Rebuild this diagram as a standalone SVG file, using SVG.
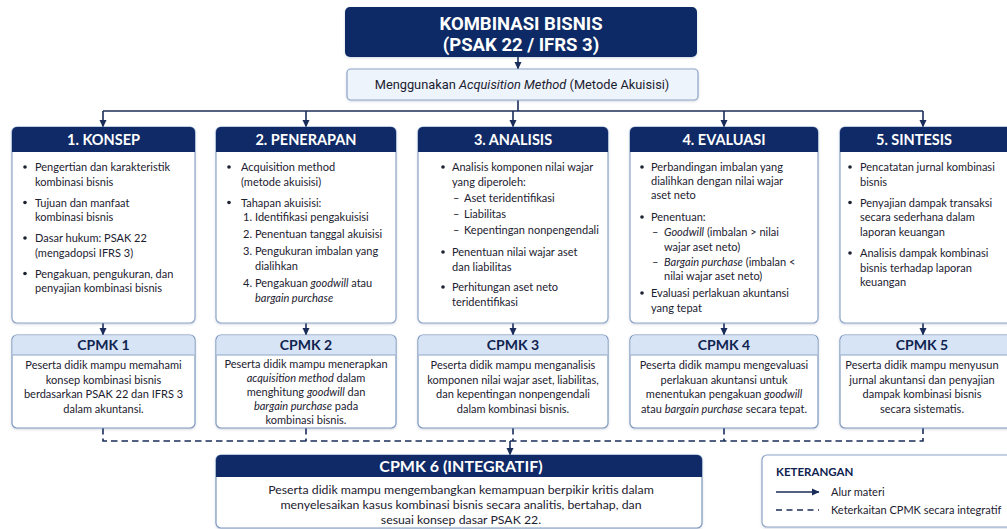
<svg xmlns="http://www.w3.org/2000/svg" width="1007" height="529" viewBox="0 0 1007 529">
<defs>
<marker id="ah" markerWidth="8" markerHeight="8" refX="7" refY="4" orient="auto" markerUnits="userSpaceOnUse">
<path d="M0,0.5 L7.5,4 L0,7.5 Z" fill="#1a2c5a"/>
</marker>
<filter id="sh" x="-5%" y="-5%" width="110%" height="115%">
<feDropShadow dx="0" dy="1" stdDeviation="1.2" flood-color="#4a5e85" flood-opacity="0.25"/>
</filter>
<style>
.navy{fill:#0f2a66}
.box{fill:#ffffff;stroke:#8ea5c8;stroke-width:1.2}
.cbox{fill:#ffffff;stroke:#7f98bf;stroke-width:1.2}
.chd{fill:#d7e4f5}
.ht{font-family:Lato,"Open Sans",sans-serif;font-weight:bold;font-size:14.5px;fill:#ffffff;text-anchor:middle}
.ct{font-family:Lato,"Open Sans",sans-serif;font-weight:bold;font-size:14px;fill:#0f2350;text-anchor:middle}
.t{font-family:Lato,"Open Sans",sans-serif;font-size:11px;fill:#1c2130}
.tc{font-family:Lato,"Open Sans",sans-serif;font-size:11px;fill:#1c2130;text-anchor:middle}
.i{font-style:italic}
.bul{fill:#1c2130}
.ln{stroke:#1a2c5a;stroke-width:1.6;fill:none}
.dash{stroke:#1a2c5a;stroke-width:1.6;fill:none;stroke-dasharray:6.5 4}
</style>
</defs>
<rect x="0" y="0" width="1007" height="529" fill="#ffffff"/>

<!-- connectors -->
<g id="connectors">
<line class="ln" x1="518" y1="57" x2="518" y2="69" marker-end="url(#ah)"/>
<line class="ln" x1="518" y1="100" x2="518" y2="111"/>
<line class="ln" x1="103" y1="111" x2="923" y2="111"/>
<line class="ln" x1="103" y1="111" x2="103" y2="127" marker-end="url(#ah)"/>
<line class="ln" x1="306" y1="111" x2="306" y2="127" marker-end="url(#ah)"/>
<line class="ln" x1="513" y1="111" x2="513" y2="127" marker-end="url(#ah)"/>
<line class="ln" x1="724" y1="111" x2="724" y2="127" marker-end="url(#ah)"/>
<line class="ln" x1="923" y1="111" x2="923" y2="127" marker-end="url(#ah)"/>
<line class="ln" x1="103" y1="323" x2="103" y2="335" marker-end="url(#ah)"/>
<line class="ln" x1="306" y1="323" x2="306" y2="335" marker-end="url(#ah)"/>
<line class="ln" x1="513" y1="323" x2="513" y2="335" marker-end="url(#ah)"/>
<line class="ln" x1="724" y1="323" x2="724" y2="335" marker-end="url(#ah)"/>
<line class="ln" x1="923" y1="323" x2="923" y2="335" marker-end="url(#ah)"/>
<path class="dash" d="M103,428 V441 H923 V428"/>
<line class="dash" x1="306" y1="428" x2="306" y2="441"/>
<line class="dash" x1="724" y1="428" x2="724" y2="441"/>
<line class="dash" x1="513" y1="428" x2="513" y2="441"/>
<line class="ln" x1="510" y1="441" x2="510" y2="455" marker-end="url(#ah)"/>
</g>

<!-- title -->
<g id="title">
<rect x="345" y="7" width="352" height="50" rx="5" class="navy" filter="url(#sh)"/>
<text x="521" y="29.5" class="ht" style="font-family:Roboto,sans-serif;font-size:18.5px">KOMBINASI BISNIS</text>
<text x="521" y="50.5" class="ht" style="font-family:Roboto,sans-serif;font-size:18.5px">(PSAK 22 / IFRS 3)</text>
</g>

<g id="method">
<rect x="347" y="69" width="351" height="31" rx="4" fill="#eef4fc" stroke="#8ea5c8" stroke-width="1.2" filter="url(#sh)"/>
<text x="522" y="89" style="font-family:Roboto,sans-serif;font-size:12.8px;fill:#1c2130;text-anchor:middle">Menggunakan <tspan class="i">Acquisition Method</tspan> (Metode Akuisisi)</text>
</g>

<!-- column 1 -->
<g id="konsep">
<rect x="12" y="127" width="183" height="196" rx="5" class="box" filter="url(#sh)"/>
<path d="M12,152 V132 a5,5 0 0 1 5,-5 H190 a5,5 0 0 1 5,5 V152 Z" class="navy"/>
<text x="103.5" y="145" class="ht">1. KONSEP</text>
<circle cx="25" cy="167" r="1.8" class="bul"/>
<text x="35" y="171" class="t">Pengertian dan karakteristik</text>
<text x="35" y="185.5" class="t">kombinasi bisnis</text>
<circle cx="25" cy="202.5" r="1.8" class="bul"/>
<text x="35" y="206.5" class="t">Tujuan dan manfaat</text>
<text x="35" y="221" class="t">kombinasi bisnis</text>
<circle cx="25" cy="238" r="1.8" class="bul"/>
<text x="35" y="242" class="t">Dasar hukum: PSAK 22</text>
<text x="35" y="256.5" class="t">(mengadopsi IFRS 3)</text>
<circle cx="25" cy="273.5" r="1.8" class="bul"/>
<text x="35" y="277.5" class="t">Pengakuan, pengukuran, dan</text>
<text x="35" y="292" class="t">penyajian kombinasi bisnis</text>
</g>

<!-- column 2 -->
<g id="penerapan">
<rect x="216" y="127" width="180" height="196" rx="5" class="box" filter="url(#sh)"/>
<path d="M216,152 V132 a5,5 0 0 1 5,-5 H391 a5,5 0 0 1 5,5 V152 Z" class="navy"/>
<text x="306" y="145" class="ht">2. PENERAPAN</text>
<circle cx="229" cy="167" r="1.8" class="bul"/>
<text x="241" y="171" class="t">Acquisition method</text>
<text x="241" y="185.5" class="t">(metode akuisisi)</text>
<circle cx="229" cy="202.5" r="1.8" class="bul"/>
<text x="241" y="206.5" class="t">Tahapan akuisisi:</text>
<text x="243" y="221" class="t">1.</text><text x="255" y="221" class="t">Identifikasi pengakuisisi</text>
<text x="243" y="238" class="t">2.</text><text x="255" y="238" class="t">Penentuan tanggal akuisisi</text>
<text x="243" y="255" class="t">3.</text><text x="255" y="255" class="t">Pengukuran imbalan yang</text>
<text x="255" y="270" class="t">dialihkan</text>
<text x="243" y="287" class="t">4.</text><text x="255" y="287" class="t">Pengakuan <tspan class="i">goodwill</tspan> atau</text>
<text x="255" y="302" class="t i">bargain purchase</text>
</g>

<!-- column 3 -->
<g id="analisis">
<rect x="418" y="127" width="190" height="196" rx="5" class="box" filter="url(#sh)"/>
<path d="M418,152 V132 a5,5 0 0 1 5,-5 H603 a5,5 0 0 1 5,5 V152 Z" class="navy"/>
<text x="513" y="145" class="ht">3. ANALISIS</text>
<circle cx="443" cy="167" r="1.8" class="bul"/>
<text x="452" y="171" class="t">Analisis komponen nilai wajar</text>
<text x="452" y="185.5" class="t">yang diperoleh:</text>
<text x="453" y="202" class="t">–</text><text x="464" y="202" class="t">Aset teridentifikasi</text>
<text x="453" y="218" class="t">–</text><text x="464" y="218" class="t">Liabilitas</text>
<text x="453" y="234" class="t">–</text><text x="464" y="234" class="t">Kepentingan nonpengendali</text>
<circle cx="443" cy="252" r="1.8" class="bul"/>
<text x="452" y="256" class="t">Penentuan nilai wajar aset</text>
<text x="452" y="270.5" class="t">dan liabilitas</text>
<circle cx="443" cy="287" r="1.8" class="bul"/>
<text x="452" y="291" class="t">Perhitungan aset neto</text>
<text x="452" y="305.5" class="t">teridentifikasi</text>
</g>

<!-- column 4 -->
<g id="evaluasi">
<rect x="630" y="127" width="188" height="196" rx="5" class="box" filter="url(#sh)"/>
<path d="M630,152 V132 a5,5 0 0 1 5,-5 H813 a5,5 0 0 1 5,5 V152 Z" class="navy"/>
<text x="724" y="145" class="ht">4. EVALUASI</text>
<circle cx="642" cy="167" r="1.8" class="bul"/>
<text x="651" y="171" class="t">Perbandingan imbalan yang</text>
<text x="651" y="185" class="t">dialihkan dengan nilai wajar</text>
<text x="651" y="199" class="t">aset neto</text>
<circle cx="642" cy="217" r="1.8" class="bul"/>
<text x="651" y="221" class="t">Penentuan:</text>
<text x="652" y="236" class="t">–</text><text x="664" y="236" class="t"><tspan class="i">Goodwill</tspan> (imbalan &gt; nilai</text>
<text x="664" y="250.5" class="t">wajar aset neto)</text>
<text x="652" y="266" class="t">–</text><text x="664" y="266" class="t"><tspan class="i">Bargain purchase</tspan> (imbalan &lt;</text>
<text x="664" y="280" class="t">nilai wajar aset neto)</text>
<circle cx="642" cy="293" r="1.8" class="bul"/>
<text x="651" y="297" class="t">Evaluasi perlakuan akuntansi</text>
<text x="651" y="311.5" class="t">yang tepat</text>
</g>

<!-- column 5 -->
<g id="sintesis">
<rect x="840" y="127" width="175" height="196" rx="5" class="box" filter="url(#sh)"/>
<path d="M840,152 V132 a5,5 0 0 1 5,-5 H1015 V152 Z" class="navy"/>
<text x="914" y="145" class="ht">5. SINTESIS</text>
<circle cx="850" cy="167" r="1.8" class="bul"/>
<text x="860" y="171" class="t">Pencatatan jurnal kombinasi</text>
<text x="860" y="185.5" class="t">bisnis</text>
<circle cx="850" cy="202.5" r="1.8" class="bul"/>
<text x="860" y="206.5" class="t">Penyajian dampak transaksi</text>
<text x="860" y="221" class="t">secara sederhana dalam</text>
<text x="860" y="235.5" class="t">laporan keuangan</text>
<circle cx="850" cy="253" r="1.8" class="bul"/>
<text x="860" y="257" class="t">Analisis dampak kombinasi</text>
<text x="860" y="271.5" class="t">bisnis terhadap laporan</text>
<text x="860" y="286" class="t">keuangan</text>
</g>

<!-- CPMK boxes -->
<g id="cpmk1">
<rect x="12" y="335" width="183" height="93" rx="5" class="cbox" filter="url(#sh)"/>
<path d="M12.6,355 V340 a4.4,4.4 0 0 1 4.4,-4.4 H190 a4.4,4.4 0 0 1 4.4,4.4 V355 Z" class="chd"/>
<line x1="12.6" y1="355" x2="194.4" y2="355" stroke="#8ea5c8" stroke-width="1"/>
<text x="103.5" y="350" class="ct">CPMK 1</text>
<text x="103.5" y="369" class="tc">Peserta didik mampu memahami</text>
<text x="103.5" y="383.5" class="tc">konsep kombinasi bisnis</text>
<text x="103.5" y="398" class="tc">berdasarkan PSAK 22 dan IFRS 3</text>
<text x="103.5" y="412.5" class="tc">dalam akuntansi.</text>
</g>

<g id="cpmk2">
<rect x="216" y="335" width="180" height="93" rx="5" class="cbox" filter="url(#sh)"/>
<path d="M216.6,355 V340 a4.4,4.4 0 0 1 4.4,-4.4 H391 a4.4,4.4 0 0 1 4.4,4.4 V355 Z" class="chd"/>
<line x1="216.6" y1="355" x2="395.4" y2="355" stroke="#8ea5c8" stroke-width="1"/>
<text x="306" y="350" class="ct">CPMK 2</text>
<text x="306" y="368" class="tc">Peserta didik mampu menerapkan</text>
<text x="306" y="382" class="tc"><tspan class="i">acquisition method</tspan> dalam</text>
<text x="306" y="396" class="tc">menghitung <tspan class="i">goodwill</tspan> dan</text>
<text x="306" y="410" class="tc"><tspan class="i">bargain purchase</tspan> pada</text>
<text x="306" y="424" class="tc">kombinasi bisnis.</text>
</g>

<g id="cpmk3">
<rect x="418" y="335" width="190" height="93" rx="5" class="cbox" filter="url(#sh)"/>
<path d="M418.6,355 V340 a4.4,4.4 0 0 1 4.4,-4.4 H603 a4.4,4.4 0 0 1 4.4,4.4 V355 Z" class="chd"/>
<line x1="418.6" y1="355" x2="607.4" y2="355" stroke="#8ea5c8" stroke-width="1"/>
<text x="513" y="350" class="ct">CPMK 3</text>
<text x="513" y="369" class="tc">Peserta didik mampu menganalisis</text>
<text x="513" y="383.5" class="tc">komponen nilai wajar aset, liabilitas,</text>
<text x="513" y="398" class="tc">dan kepentingan nonpengendali</text>
<text x="513" y="412.5" class="tc">dalam kombinasi bisnis.</text>
</g>

<g id="cpmk4">
<rect x="630" y="335" width="188" height="93" rx="5" class="cbox" filter="url(#sh)"/>
<path d="M630.6,355 V340 a4.4,4.4 0 0 1 4.4,-4.4 H813 a4.4,4.4 0 0 1 4.4,4.4 V355 Z" class="chd"/>
<line x1="630.6" y1="355" x2="817.4" y2="355" stroke="#8ea5c8" stroke-width="1"/>
<text x="724" y="350" class="ct">CPMK 4</text>
<text x="724" y="369" class="tc">Peserta didik mampu mengevaluasi</text>
<text x="724" y="383.5" class="tc">perlakuan akuntansi untuk</text>
<text x="724" y="398" class="tc">menentukan pengakuan <tspan class="i">goodwill</tspan></text>
<text x="724" y="412.5" class="tc">atau <tspan class="i">bargain purchase</tspan> secara tepat.</text>
</g>

<g id="cpmk5">
<rect x="840" y="335" width="175" height="93" rx="5" class="cbox" filter="url(#sh)"/>
<path d="M840.6,355 V340 a4.4,4.4 0 0 1 4.4,-4.4 H1015 V355 Z" class="chd"/>
<line x1="840.6" y1="355" x2="1007" y2="355" stroke="#8ea5c8" stroke-width="1"/>
<text x="922" y="350" class="ct">CPMK 5</text>
<text x="922" y="369" class="tc">Peserta didik mampu menyusun</text>
<text x="922" y="383.5" class="tc">jurnal akuntansi dan penyajian</text>
<text x="922" y="398" class="tc">dampak kombinasi bisnis</text>
<text x="922" y="412.5" class="tc">secara sistematis.</text>
</g>

<g id="cpmk6">
<rect x="216" y="455" width="486" height="73" rx="5" class="cbox" filter="url(#sh)"/>
<path d="M216,477 V460 a5,5 0 0 1 5,-5 H697 a5,5 0 0 1 5,5 V477 Z" class="navy"/>
<text x="461" y="472" class="ht" style="font-size:16px">CPMK 6 (INTEGRATIF)</text>
<text x="461" y="494" class="tc" style="font-size:12.3px">Peserta didik mampu mengembangkan kemampuan berpikir kritis dalam</text>
<text x="461" y="509" class="tc" style="font-size:12.3px">menyelesaikan kasus kombinasi bisnis secara analitis, bertahap, dan</text>
<text x="461" y="523.5" class="tc" style="font-size:12.3px">sesuai konsep dasar PSAK 22.</text>
</g>

<g id="legend">
<rect x="762" y="455" width="255" height="72" rx="5" fill="#ffffff" stroke="#8ea5c8" stroke-width="1.2" filter="url(#sh)"/>
<text x="776" y="476" style="font-family:Lato,'Open Sans',sans-serif;font-weight:bold;font-size:11.5px;fill:#0f2350">KETERANGAN</text>
<line class="ln" x1="776" y1="492" x2="819" y2="492" marker-end="url(#ah)"/>
<text x="831" y="496" class="t">Alur materi</text>
<line class="dash" x1="776" y1="510" x2="819" y2="510" style="stroke-dasharray:6 4.5"/>
<text x="831" y="514" class="t">Keterkaitan CPMK secara integratif</text>
</g>
</svg>
